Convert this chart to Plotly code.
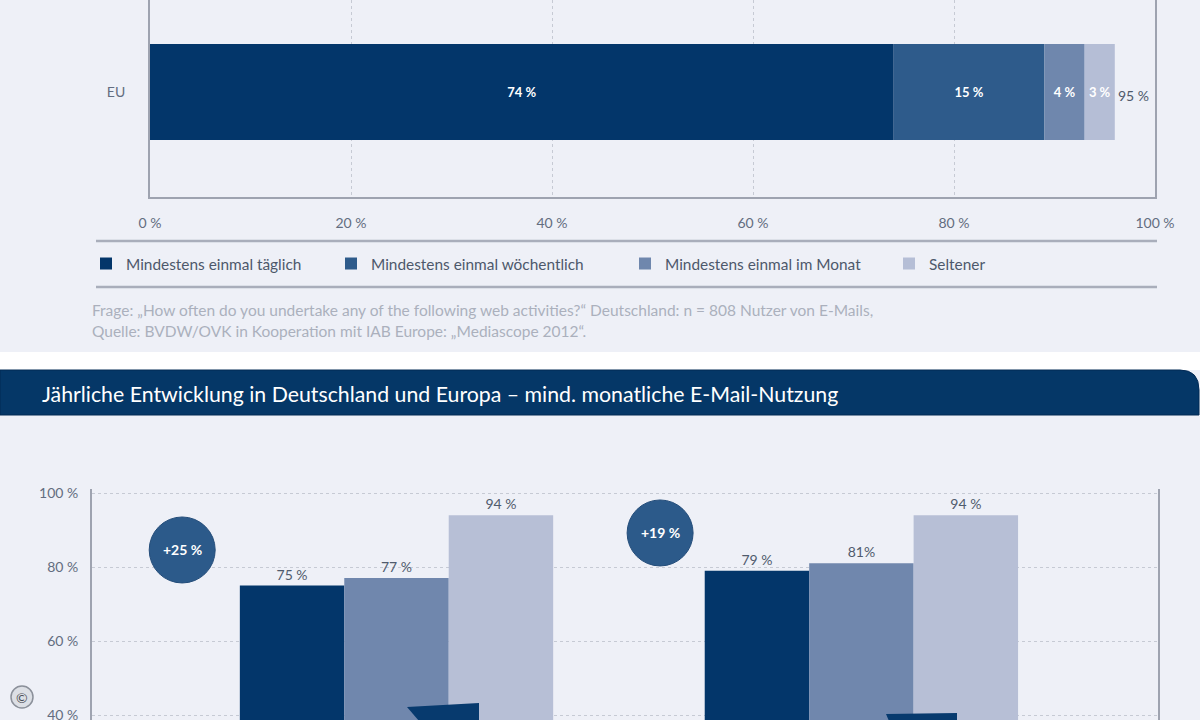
import plotly.graph_objects as go

W, H = 1200, 720

# ---------------- data: top chart ----------------
top_categories = ["EU"]
frequency_names = ["Mindestens einmal täglich", "Mindestens einmal wöchentlich",
                   "Mindestens einmal im Monat", "Seltener"]
eu_shares = [74, 15, 4, 3]
eu_share_labels = ["74 %", "15 %", "4 %", "3 %"]
eu_total_label = "95 %"
top_ticks = [0, 20, 40, 60, 80, 100]
top_tick_labels = ["0 %", "20 %", "40 %", "60 %", "80 %", "100 %"]

# ---------------- data: bottom chart ----------------
regions = ["Deutschland", "Europa"]
usage_series_names = ["Erhebung 1", "Erhebung 2", "Erhebung 3"]
usage_series_1 = [75, 79]
usage_series_2 = [77, 81]
usage_series_3 = [94, 94]
usage_labels_1 = ["75 %", "79 %"]
usage_labels_2 = ["77 %", "81%"]
usage_labels_3 = ["94 %", "94 %"]
growth_labels = ["+25 %", "+19 %"]
bottom_ticks = [40, 60, 80, 100]
bottom_tick_labels = ["40 %", "60 %", "80 %", "100 %"]

title_bottom = "Jährliche Entwicklung in Deutschland und Europa – mind. monatliche E-Mail-Nutzung"
footnote_1 = "Frage: „How often do you undertake any of the following web activities?“ Deutschland: n = 808 Nutzer von E-Mails,"
footnote_2 = "Quelle: BVDW/OVK in Kooperation mit IAB Europe: „Mediascope 2012“."

# ---------------- styles ----------------
FONT = "Lato"
BG = "#eef0f7"
NAVY = "#03366a"
top_colors = [NAVY, "#2e5b8b", "#6f87ad", "#b5bed6"]
bottom_colors = [NAVY, "#7087ad", "#b7bfd6"]
AXIS = "#9ea3b0"
GRID = "#c6cad4"
TICK = "#636d80"
legend_ids = ["legend", "legend2", "legend3", "legend4"]
legend_square_x = [104, 349, 643, 907]   # layout positions (px)


def px(x):
    return x / W


def py(y):
    return 1 - y / H


fig = go.Figure()

# top stacked bar (manual bases, same offset group)
base = 0
for name, val, lab, col, lg in zip(frequency_names, eu_shares, eu_share_labels, top_colors, legend_ids):
    fig.add_trace(go.Bar(
        y=top_categories, x=[val], base=[base], orientation="h", name=name, legend=lg,
        marker=dict(color=col, line=dict(width=0)), width=0.6, offsetgroup="eu",
        text=[lab], textposition="inside", insidetextanchor="middle", textangle=0,
        textfont=dict(family=FONT, size=13, color="white", weight="bold"),
        xaxis="x", yaxis="y", hoverinfo="x+name"))
    base += val

# bottom grouped bars
for name, vals, labs, col, g in zip(
        usage_series_names,
        [usage_series_1, usage_series_2, usage_series_3],
        [usage_labels_1, usage_labels_2, usage_labels_3],
        bottom_colors, ["a", "b", "c"]):
    fig.add_trace(go.Bar(
        x=regions, y=vals, name=name, marker=dict(color=col, line=dict(width=0)),
        offsetgroup=g, text=labs, textposition="outside",
        textfont=dict(family=FONT, size=14, color="#505b6d"),
        xaxis="x2", yaxis="y2", showlegend=False))

shapes = []
# white separator strip
shapes.append(dict(type="rect", xref="paper", yref="paper", x0=0, x1=1,
                   y0=py(370), y1=py(352), fillcolor="white", line=dict(width=0), layer="below"))
# banner with rounded top-right corner
banner = (f"M {px(0)} {py(370)} L {px(1180)} {py(370)} "
          f"Q {px(1199)} {py(370)} {px(1199)} {py(390)} "
          f"L {px(1199)} {py(415)} L {px(0)} {py(415)} Z")
shapes.append(dict(type="path", xref="paper", yref="paper", path=banner,
                   fillcolor="#053767", line=dict(color="#022a55", width=1)))
# legend separator lines
for yy in (241, 287):
    shapes.append(dict(type="line", xref="paper", yref="paper", x0=px(96), x1=px(1157),
                       y0=py(yy), y1=py(yy), line=dict(color="#a9aebb", width=2.5)))
# growth circles
circle_pos = [(-0.461, 84.6), (0.567, 89.2)]
for (cx, cy) in circle_pos:
    shapes.append(dict(type="circle", xref="x2", yref="y2", xsizemode="pixel", ysizemode="pixel",
                       xanchor=cx, yanchor=cy, x0=-33, x1=33, y0=-33, y1=33,
                       fillcolor="#2c5a8a", line=dict(color="#244d7a", width=1)))
# arrow wedges at bottom
for pts in ([(407, 707), (479, 703), (479, 721), (419, 721)],
            [(886, 714), (957, 713), (957, 721), (889, 721)]):
    p = "M " + " L ".join(f"{px(a)} {py(b)}" for a, b in pts) + " Z"
    shapes.append(dict(type="path", xref="paper", yref="paper", path=p,
                       fillcolor="#073a6e", line=dict(width=0)))
# copyright badge
shapes.append(dict(type="circle", xref="paper", yref="paper", x0=px(11), x1=px(33),
                   y0=py(708), y1=py(686), fillcolor="#dcdfe5", line=dict(color="#8b909a", width=1.5)))

annotations = [
    dict(x=sum(eu_shares), y=0, xref="x", yref="y", text=eu_total_label, showarrow=False,
         xanchor="left", xshift=1, yshift=-3, font=dict(family=FONT, size=14, color="#4f5a6b")),
    dict(x=px(40), y=py(394), xref="paper", yref="paper", text=title_bottom, showarrow=False,
         xanchor="left", yanchor="middle", font=dict(family=FONT, size=21.3, color="white")),
    dict(x=px(90), y=py(310), xref="paper", yref="paper", text=footnote_1, showarrow=False,
         xanchor="left", yanchor="middle", font=dict(family=FONT, size=15.5, color="#abb0bd")),
    dict(x=px(90), y=py(331), xref="paper", yref="paper", text=footnote_2, showarrow=False,
         xanchor="left", yanchor="middle", font=dict(family=FONT, size=15.5, color="#abb0bd")),
    dict(x=px(22), y=py(697), xref="paper", yref="paper", text="©", showarrow=False,
         xanchor="center", yanchor="middle", font=dict(family=FONT, size=14, color="#4a4f58")),
]
for (cx, cy), lab in zip(circle_pos, growth_labels):
    annotations.append(dict(x=cx, y=cy, xref="x2", yref="y2", text=lab, showarrow=False,
                            font=dict(family=FONT, size=14, color="white", weight="bold")))

legends = {}
for lg, sx in zip(legend_ids, legend_square_x):
    legends[lg] = dict(orientation="h", x=px(sx - 18), xanchor="left", y=py(264), yanchor="middle",
                       bgcolor="rgba(0,0,0,0)",
                       font=dict(family=FONT, size=15.4, color="#4d586b"))

fig.update_layout(
    width=W, height=H, margin=dict(l=0, r=0, t=0, b=0, autoexpand=False),
    paper_bgcolor=BG, plot_bgcolor=BG,
    font=dict(family=FONT, color=TICK),
    barmode="group", bargap=0.326, bargroupgap=0,
    uniformtext=dict(minsize=13, mode="show"),
    showlegend=True,
    xaxis=dict(domain=[px(150), px(1155)], range=[0, 100], anchor="y", automargin=False,
               tickvals=top_ticks, ticktext=top_tick_labels, ticklabelstandoff=12,
               tickfont=dict(family=FONT, size=14, color=TICK),
               showgrid=True, gridcolor=GRID, griddash="3px,3px", gridwidth=1,
               showline=True, linecolor=AXIS, linewidth=2, zeroline=False, ticks=""),
    yaxis=dict(domain=[py(197), 1], range=[-0.656, 0.575], anchor="x", automargin=False,
               tickfont=dict(family=FONT, size=14, color=TICK), ticklabelstandoff=20,
               showgrid=False, showline=True, mirror=True, linecolor=AXIS, linewidth=2,
               zeroline=False, ticks=""),
    xaxis2=dict(domain=[px(92), px(1158)], range=[-0.655, 1.638], anchor="y2", automargin=False,
                showticklabels=False, showgrid=False, showline=False, zeroline=False, ticks=""),
    yaxis2=dict(domain=[0, py(489)], range=[38.65, 101.08], anchor="x2", automargin=False,
                tickvals=bottom_ticks, ticktext=bottom_tick_labels, ticklabelstandoff=9,
                ticklabeloverflow="allow",
                tickfont=dict(family=FONT, size=14, color=TICK),
                showgrid=True, gridcolor=GRID, griddash="3px,3px", gridwidth=1,
                showline=True, mirror=True, linecolor=AXIS, linewidth=2, zeroline=False, ticks=""),
    shapes=shapes, annotations=annotations,
    **legends,
)

fig.write_html("out.html", config={"displayModeBar": False},
               post_script="document.body.style.margin='0';document.body.style.overflow='hidden';")
